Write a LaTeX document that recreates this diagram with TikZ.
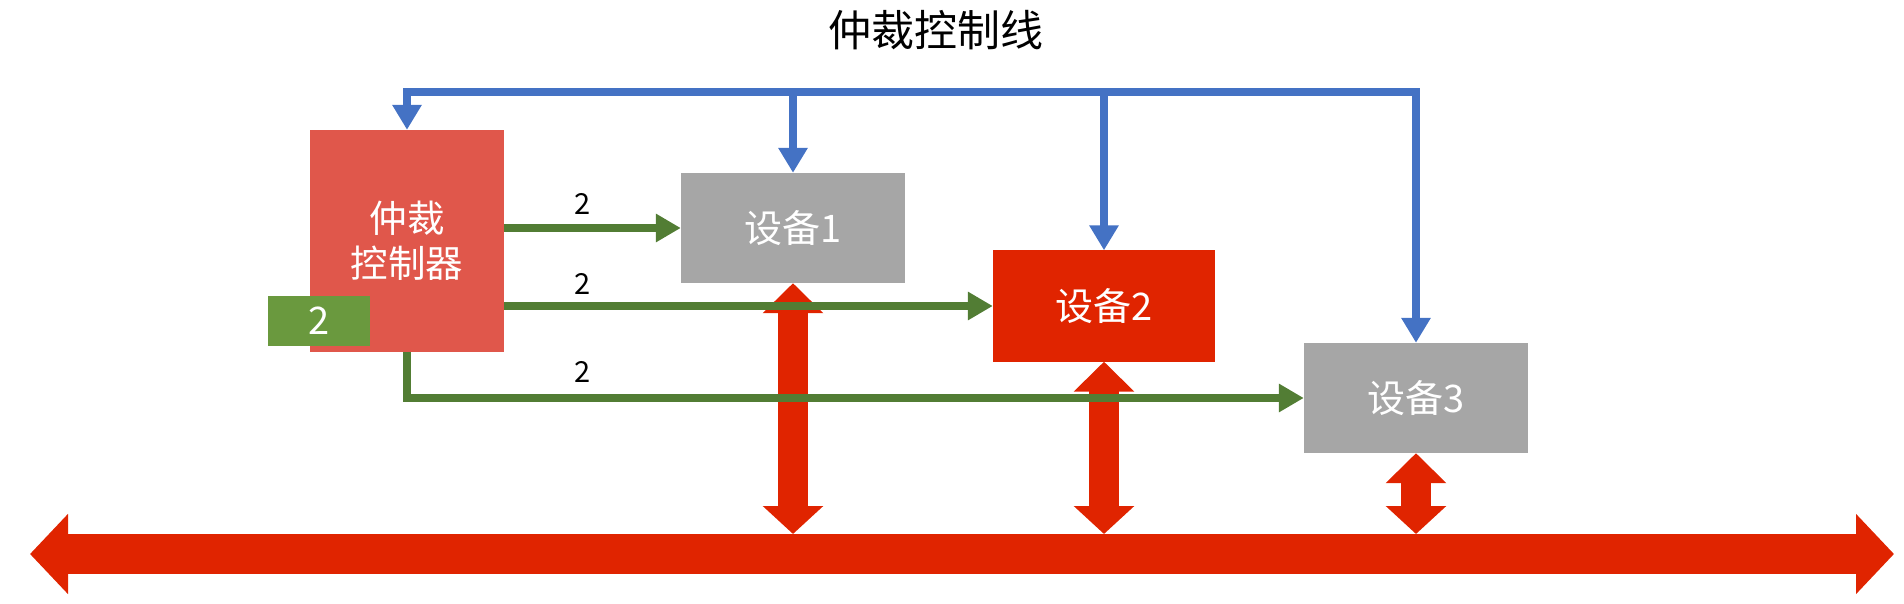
\documentclass[tikz,border=0pt]{standalone}
\usepackage{fontspec}
\setmainfont{Noto Sans CJK SC}
\usetikzlibrary{arrows.meta}
\definecolor{arbred}{HTML}{E0574B}
\definecolor{devred}{HTML}{E02400}
\definecolor{devgray}{HTML}{A6A6A6}
\definecolor{lgreen}{HTML}{527D34}
\definecolor{bgreen}{HTML}{6A993E}
\definecolor{lblue}{HTML}{4472C4}
\definecolor{busred}{HTML}{E02400}
\tikzset{
  box/.style={inner sep=0pt, text=white, align=center, font=\fontsize{38pt}{45pt}\selectfont},
  devbox/.style={box, fill=devgray, minimum width=224pt, minimum height=110pt},
  bluearrow/.style={draw=lblue, line width=8pt, line join=miter, {Triangle[length=25pt,width=28pt]}-{Triangle[length=25pt,width=28pt]}},
  bluesingle/.style={draw=lblue, line width=8pt, -{Triangle[length=25pt,width=28pt]}},
  greenarrow/.style={draw=lgreen, line width=8pt, line join=miter, -{Triangle[length=25pt,width=27pt]}},
  redv/.style={draw=busred, line width=30pt, {Triangle[length=30pt,width=59pt]}-{Triangle[length=28pt,width=59pt]}},
  busarrow/.style={draw=busred, line width=40pt, {Triangle[length=38pt,width=78pt]}-{Triangle[length=38pt,width=78pt]}},
  numlabel/.style={inner sep=0pt, font=\fontsize{29pt}{32pt}\selectfont}
}
\begin{document}
\begin{tikzpicture}[x=1pt,y=-1pt]
\useasboundingbox (0,0) rectangle (1904,604);
% title
\node[inner sep=0pt, font=\fontsize{43pt}{48pt}\selectfont] (title) at (936,30) {仲裁控制线};
% boxes
\node[box, fill=arbred, minimum width=194pt, minimum height=222pt, font=\fontsize{37.5pt}{45pt}\selectfont] (arb) at (407,241) {仲裁\\控制器};
\node[devbox] (d1) at (793,228) {设备1};
\node[box, fill=devred, minimum width=222pt, minimum height=111pt] (d2) at (1104,306) {设备2};
\node[devbox] (d3) at (1416,398) {设备3};
\node[box, fill=bgreen, minimum width=102pt, minimum height=50pt, font=\fontsize{38pt}{44pt}\selectfont] (g) at (319,321) {2};
% coordinates
\coordinate (top) at (0,92);
\coordinate (bustop) at (0,534);
\coordinate (busL) at (30,554);
\coordinate (busR) at (1894,554);
% blue control lines
\draw[bluearrow] (arb.north) -- (arb.north |- top) -- (d3.north |- top) -- (d3.north);
\draw[bluesingle] (d1.north |- top) -- (d1.north);
\draw[bluesingle] (d2.north |- top) -- (d2.north);
% bus
\draw[busarrow] (busL) -- (busR);
\draw[redv] (d1.south) -- (d1.south |- bustop);
\draw[redv] (d2.south) -- (d2.south |- bustop);
\draw[redv] (d3.south) -- (d3.south |- bustop);
% green arrows
\draw[greenarrow] (arb.east |- d1.west) -- (d1.west);
\draw[greenarrow] (arb.east |- d2.west) -- (d2.west);
\draw[greenarrow] (arb.south) |- (d3.west);
% labels
\node[numlabel] (l1) at (583,204) {2};
\node[numlabel] (l2) at (583,284) {2};
\node[numlabel] (l3) at (583,372) {2};
\end{tikzpicture}
\end{document}
